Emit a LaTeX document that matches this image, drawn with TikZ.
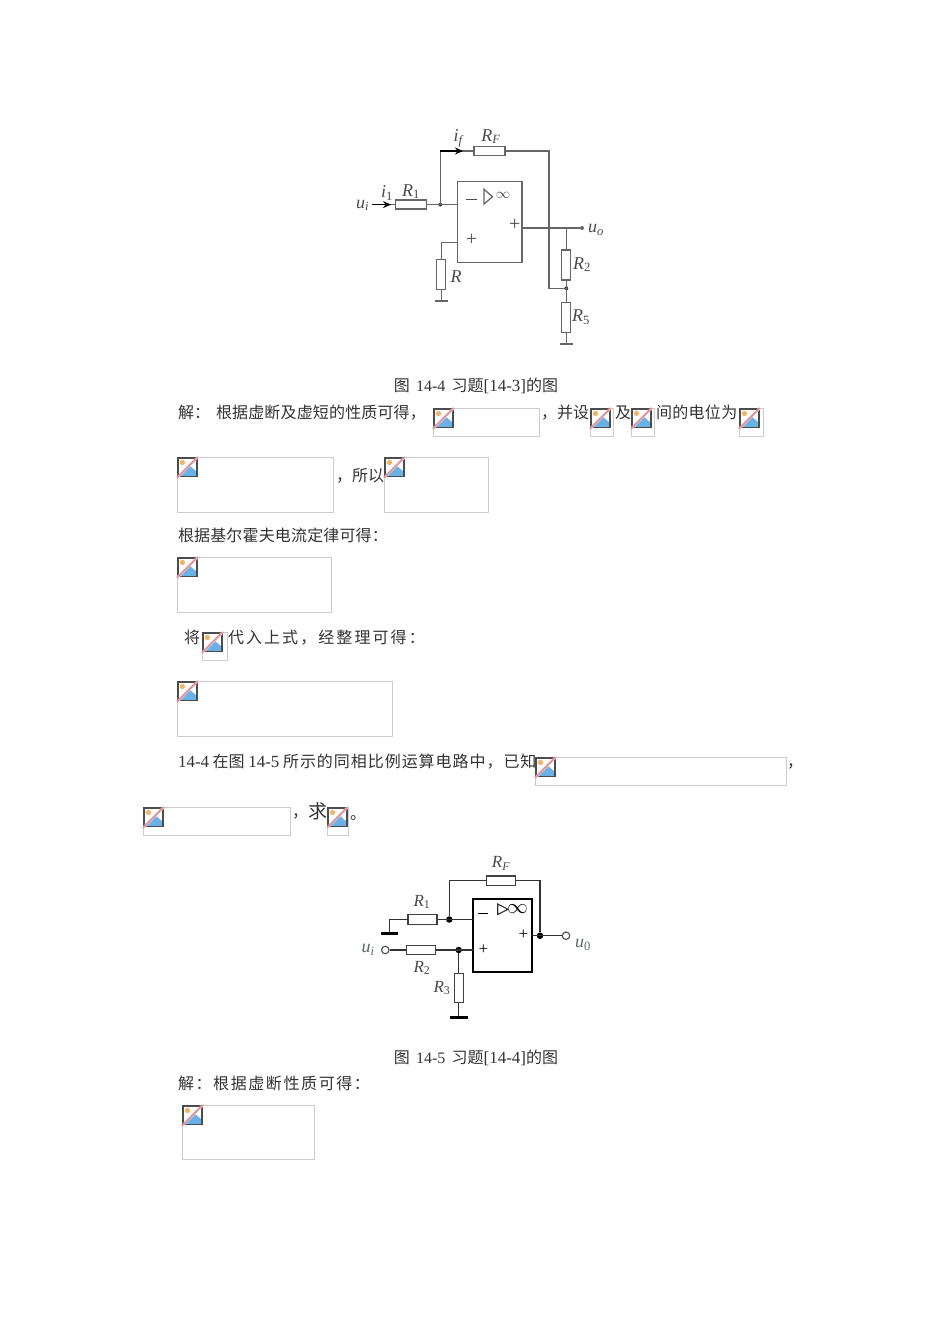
\documentclass[tikz,border=0pt]{standalone}
\usepackage{fontspec}
\setmainfont{Noto Sans CJK SC}
\newfontfamily\latf{Liberation Serif}
\usetikzlibrary{arrows.meta}
\definecolor{wireA}{HTML}{666666}
\definecolor{labelA}{HTML}{4A4A4A}
\definecolor{labelB}{HTML}{5E6670}
\definecolor{boxgray}{HTML}{CCCCCC}
\tikzset{
  txt/.style={anchor=base west,inner sep=0pt,outer sep=0pt,text=black!80,font=\fontsize{16}{16}\selectfont},
  captxt/.style={txt,anchor=base},
  wa/.style={draw=wireA,line width=1.3pt},
  wb/.style={draw=black!80,line width=1.1pt},
  resA/.style={draw=wireA,line width=1.3pt,fill=white,inner sep=0pt,minimum width=31pt,minimum height=9pt},
  resAv/.style={resA,minimum width=9pt,minimum height=30pt},
  resB/.style={draw=black!75,line width=1.1pt,fill=white,inner sep=0pt,minimum width=29pt,minimum height=9.5pt},
  resBv/.style={resB,minimum width=8.7pt,minimum height=29pt},
  gndA/.style={draw=wireA,line width=1.5pt},
  gndB/.style={draw=black,line width=2.6pt},
  dotA/.style={circle,fill=black!75,inner sep=0pt,minimum size=4pt},
  dotB/.style={circle,fill=black,inner sep=0pt,minimum size=6.5pt},
  openA/.style={circle,fill=wireA,inner sep=0pt,minimum size=4pt},
  openB/.style={circle,draw=black!70,line width=1.1pt,fill=white,inner sep=0pt,minimum size=7.5pt},
  la/.style={inner sep=0pt,text=labelA,font=\fontsize{18}{18}\selectfont\latf\itshape},
  lb/.style={inner sep=0pt,text=labelA,font=\fontsize{17}{17}\selectfont\latf\itshape},
  lbb/.style={inner sep=0pt,text=labelB,font=\fontsize{18}{18}\selectfont\latf\itshape},
  sgn/.style={inner sep=0pt,text=black!70,font=\fontsize{20}{20}\selectfont\latf},
  sgnb/.style={inner sep=0pt,text=black,font=\fontsize{17}{17}\selectfont\latf},
  imgbox/.style={draw=boxgray,line width=0.9pt,fill=white},
}
\newcommand{\sss}[1]{\textsubscript{#1}}
\newcommand{\ssu}[1]{\textsubscript{\upshape #1}}
% broken-image placeholder: a grey frame with the icon in its top left corner
\newcommand{\brokenimg}[4]{%
  \draw[imgbox] (#1,#2) rectangle ++(#3-0.5,#4-0.5);
  \begin{scope}[shift={(#1,#2)}]
    \fill[fill=white] (0.5,0.5) rectangle (20.5,20);
    \fill[fill={rgb,255:red,104;green,178;blue,232}] (2,19) -- (12.5,8.5) -- (19.5,14.5) -- (19.5,19) -- cycle;
    \fill[fill={rgb,255:red,246;green,178;blue,100}] (5.5,5.5) circle (2.6);
    \draw[draw=black!70,line width=1.1pt] (1,1) rectangle (20,19.6);
    \draw[draw=white,line width=2.4pt] (0.5,20.5) -- (20.5,0.5);
    \draw[draw={rgb,255:red,228;green,145;blue,152},line width=2pt] (0,20.8) -- (20.8,0);
  \end{scope}}
\begin{document}
\begin{tikzpicture}[x=1pt,y=-1pt]
\useasboundingbox (0,0) rectangle (950,1344);
\fill[white] (0,0) rectangle (950,1344);

% ---------- figure 14-4 ----------
\node[draw=wireA,line width=1.3pt,minimum width=64.3pt,minimum height=80.6pt,inner sep=0pt] (opA) at (489.8,222) {};
\node[resA] (rA1) at (411.3,204.6) {};
\node[resA] (rAF) at (489.6,151) {};
\node[resAv] (rAR) at (441.3,274.7) {};
\node[resAv] (rA2) at (566.3,265) {};
\node[resAv] (rA3) at (566.3,317.5) {};
\coordinate (uAin) at (372,204.6);
\coordinate (jAtl) at (440.3,151);
\coordinate (jAtr) at (549,151);
\coordinate (jAbr) at (549,288.3);
\coordinate (opAm) at (457.7,204.6);
\coordinate (opAp) at (457.7,242.3);
\coordinate (opAo) at (522,228);
\coordinate (cAR) at (441.3,242.3);
\coordinate (gA1) at (441.3,301);
\coordinate (gA2) at (566.3,344);
\node[dotA] (jA1) at (440.3,204.6) {};
\node[dotA] (jA2) at (566.3,288.3) {};
\node[openA] (oAo) at (582,228) {};
\coordinate (jA3) at (566.3,228);
\draw[wa] (uAin) -- (rA1.west);
\draw[wa] (rA1.east) -- (opAm);
\draw[wa] (jA1.center) -- (jAtl) -- (rAF.west);
\draw[wa] (rAF.east) -- (jAtr) -- (jAbr) -- (jA2.center);
\draw[wa] (opAo) -- (oAo);
\draw[wa] (jA3) -- (rA2.north);
\draw[wa] (rA2.south) -- (rA3.north);
\draw[wa] (rA3.south) -- (gA2);
\draw[wa] (opAp) -- (cAR) -- (rAR.north);
\draw[wa] (rAR.south) -- (gA1);
\draw[gndA] ([xshift=-6.5pt]gA1) -- ([xshift=6.5pt]gA1);
\draw[gndA] ([xshift=-6.5pt]gA2) -- ([xshift=6.5pt]gA2);
\coordinate (arA1) at (391,204.6);
\coordinate (arA2) at (463,151);
\draw[draw=black,line width=1.2pt,-{Stealth[length=8pt,width=7pt]}] (uAin) -- (arA1);
\draw[draw=black,line width=1.2pt,-{Stealth[length=8pt,width=7pt]}] (jAtl) -- (arA2);
\coordinate (sgA) at (484,189.3);
\draw[wa] (sgA) -- (484,204) -- (492.5,196.7) -- cycle;
\node[sgn,text=labelA,font=\fontsize{15}{15}\selectfont] (infA) at (503,195) {$\infty$};
\node[sgn] (mA) at (471.5,202) {\rule[0.6ex]{11pt}{0.9pt}};
\node[sgn] (pA) at (471.5,239.5) {+};
\node[sgn] (poA) at (514.7,225) {+};
\node[la] (lui) at (362.5,205.5) {u\sss{i}};
\node[la] (lai1) at (387,193) {i\ssu{1}};
\node[la] (lar1) at (411,191.5) {R\ssu{1}};
\node[la] (laif) at (458,138) {i\sss{f}};
\node[la] (larf) at (491,136.5) {R\sss{F}};
\node[la] (lar) at (456,277) {R};
\node[la] (lar2) at (582,264.5) {R\ssu{2}};
\node[la] (lar5) at (581,317) {R\ssu{5}};
\node[la] (lauo) at (596,230) {u\sss{o}};

\node[captxt] (capA) at (476,391) {图\, {\latf 14-4} \,习题{\latf\fontsize{17}{17}\selectfont [14-3]}的图};

% ---------- text ----------
\node[txt] (t1a) at (178,418) {解：};
\node[txt] (t1b) at (216,418) {\addfontfeature{LetterSpace=1}根据虚断及虚短的性质可得，};
\brokenimg{433}{408}{107}{29}
\node[txt] (t1c) at (541,418) {，并设};
\brokenimg{590}{408}{24}{29}
\node[txt] (t1d) at (615,418) {及};
\brokenimg{631}{408}{24}{29}
\node[txt] (t1e) at (656,418) {\addfontfeature{LetterSpace=2}间的电位为};
\brokenimg{739}{408}{25}{29}

\brokenimg{177}{457}{157}{56}
\node[txt] (t2a) at (336,481) {，所以};
\brokenimg{384}{457}{105}{56}

\node[txt] (t3) at (178,541) {\addfontfeature{LetterSpace=1}根据基尔霍夫电流定律可得：};
\brokenimg{177}{557}{155}{56}

\node[txt] (t4a) at (184,643) {将};
\brokenimg{202}{632}{26}{29}
\node[txt] (t4b) at (228,643) {\addfontfeature{LetterSpace=13}代入上式，经整理可得：};
\brokenimg{177}{681}{216}{56}

\node[txt] (t5a) at (178,767) {{\latf\fontsize{17}{17}\selectfont 14-4} 在图 {\latf\fontsize{17}{17}\selectfont 14-5} {\addfontfeature{LetterSpace=6}所示的同相比例运算电路中，已知}};
\brokenimg{535}{757}{252}{29}
\node[txt] (t5b) at (787,767) {，};
\brokenimg{143}{807}{148}{29}
\node[txt] (t6a) at (292,817) {，};
\node[txt,font=\fontsize{19}{19}\selectfont] (t6b) at (308,818) {求};
\brokenimg{327}{807}{22}{29}
\node[txt] (t6c) at (350,819) {。};

% ---------- figure 14-5 ----------
\node[draw=black,line width=2.2pt,minimum width=58.4pt,minimum height=72.4pt,inner sep=0pt] (opB) at (502.5,935.5) {};
\node[resB] (rB1) at (422.5,919.5) {};
\node[resB] (rBF) at (501.2,880.7) {};
\node[resB] (rB2) at (420.8,950) {};
\node[resBv] (rB3) at (458.7,987.8) {};
\node[dotB] (jB1) at (449.3,919.5) {};
\node[dotB] (jB2) at (458.7,950) {};
\node[dotB] (jB3) at (540,935.7) {};
\node[openB] (oBi) at (385.3,950) {};
\node[openB] (oBo) at (566,935.7) {};
\coordinate (cBg) at (389.3,919.5);
\coordinate (gB1) at (389.3,933.3);
\coordinate (gB2) at (458.7,1017.3);
\coordinate (cBt) at (449.3,880.7);
\coordinate (cBr) at (540,880.7);
\coordinate (opBm) at (473.3,919.5);
\coordinate (opBp) at (473.3,950);
\coordinate (opBo) at (531.7,935.7);
\draw[wb] (rB1.west) -- (cBg) -- (gB1);
\draw[wb] (rB1.east) -- (opBm);
\draw[wb] (jB1) -- (cBt) -- (rBF.west);
\draw[wb] (rBF.east) -- (cBr) -- (jB3);
\draw[wb] (opBo) -- (oBo);
\draw[wb] (oBi) -- (rB2.west);
\draw[wb] (rB2.east) -- (opBp);
\draw[wb] (jB2) -- (rB3.north);
\draw[wb] (rB3.south) -- (gB2);
\draw[gndB] ([xshift=-8.8pt]gB1) -- ([xshift=8.8pt]gB1);
\draw[gndB] ([xshift=-8.8pt]gB2) -- ([xshift=8.8pt]gB2);
\coordinate (sgB) at (497.7,904);
\draw[wb] (sgB) -- (497.7,914.5) -- (508,909.3) -- cycle;
\node[sgnb,font=\fontsize{22}{22}\selectfont] (infB) at (517.5,909.5) {$\infty$};
\node[sgnb] (mB) at (483.3,915.5) {\rule[0.6ex]{10pt}{1pt}};
\node[sgnb] (pB) at (483.3,949.5) {+};
\node[sgnb] (poB) at (523.3,935) {+};
\node[lb] (lbrf) at (501,863.5) {R\sss{F}};
\node[lb] (lbr1) at (422,902) {R\ssu{1}};
\node[lb] (lbr2) at (422,968) {R\ssu{2}};
\node[lb] (lbr3) at (442,988) {R\ssu{3}};
\node[lbb] (lbui) at (368,950) {u\sss{i}};
\node[lbb] (lbuo) at (583,945) {u\ssu{0}};

\node[captxt] (capB) at (476,1063) {图\, {\latf 14-5} \,习题{\latf\fontsize{17}{17}\selectfont [14-4]}的图};
\node[txt] (t7) at (178,1089) {\addfontfeature{LetterSpace=10}解：根据虚断性质可得：};
\brokenimg{182}{1105}{133}{55}
\end{tikzpicture}
\end{document}
